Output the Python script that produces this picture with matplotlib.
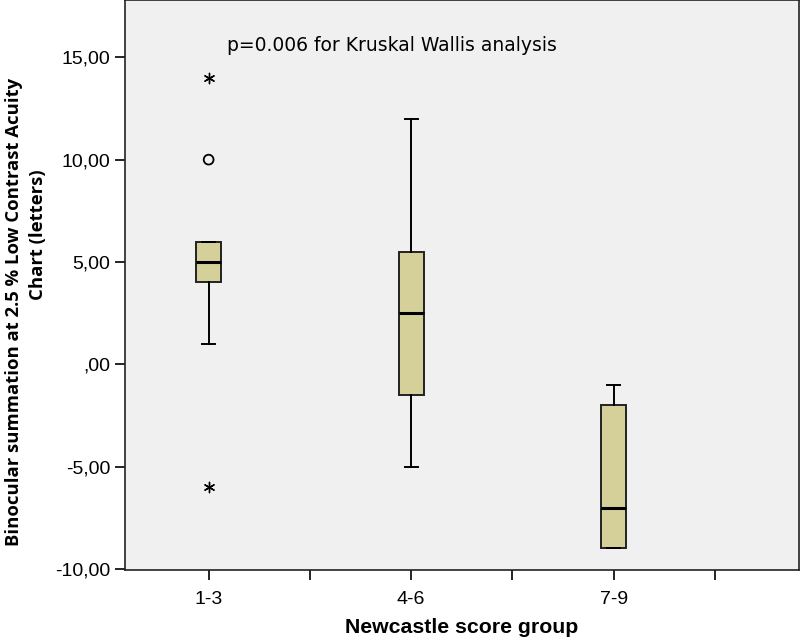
import matplotlib
matplotlib.use("Agg")
import matplotlib.pyplot as plt

groups = ["1-3", "4-6", "7-9"]
medians = [5.0, 2.5, -7.0]
q1 = [4.0, -1.5, -9.0]
q3 = [6.0, 5.5, -2.0]
whis_lo = [1.0, -5.0, -9.0]
whis_hi = [6.0, 12.0, -1.0]

# outliers (circle) and extremes (star) for the first group
outlier_x = [1]
outlier_y = [10.0]
extreme_x = [1, 1]
extreme_y = [14.0, -6.0]

y_ticks = [15, 10, 5, 0, -5, -10]
y_labels = ["15,00", "10,00", "5,00", ",00", "-5,00", "-10,00"]

plt.rcParams["font.family"] = ["Liberation Sans", "DejaVu Sans"]

fig = plt.figure(figsize=(8, 6.38), dpi=100)
ax = fig.add_axes([0.156, 0.1066, 0.843, 0.8934])
ax.set_facecolor("#f0f0f0")

stats = []
for i, g in enumerate(groups):
    stats.append({
        "label": g,
        "med": medians[i],
        "q1": q1[i],
        "q3": q3[i],
        "whislo": whis_lo[i],
        "whishi": whis_hi[i],
        "fliers": [],
    })

positions = [1, 2, 3]
ax.bxp(
    stats,
    positions=positions,
    widths=0.125,
    patch_artist=True,
    showfliers=False,
    boxprops={"facecolor": "#d5d09a", "edgecolor": "#222222", "linewidth": 1.4},
    medianprops={"color": "black", "linewidth": 2.2},
    whiskerprops={"color": "black", "linewidth": 1.4},
    capprops={"color": "black", "linewidth": 1.4},
    capwidths=0.065,
)

ax.scatter(outlier_x, outlier_y, marker="o", s=50, facecolors="none",
           edgecolors="black", linewidths=1.3, zorder=3)
ax.scatter(extreme_x, extreme_y, marker=(6, 2, 0), s=55, color="black",
           linewidths=1.0, zorder=3)

ax.set_xlim(0.586, 3.916)
ax.set_ylim(-10.05, 17.8)

ax.set_xticks([1, 1.5, 2, 2.5, 3, 3.5])
ax.set_xticklabels(["1-3", "", "4-6", "", "7-9", ""])
ax.set_yticks(y_ticks)
ax.set_yticklabels(y_labels)
ax.tick_params(axis="both", direction="out", length=7, width=1.2, labelsize=14, colors="black")
ax.tick_params(axis="x", pad=8)

for side in ["left", "bottom", "top", "right"]:
    ax.spines[side].set_linewidth(1.2)
    ax.spines[side].set_color("#222222")

ax.set_xlabel("Newcastle score group", fontsize=15.3, fontweight="bold")
ax.xaxis.set_label_coords(0.5, -0.085)

fig.text(0.018, 0.511, "Binocular summation at 2.5 % Low Contrast Acuity",
         rotation=90, fontsize=13.3, fontweight="bold", family=["Open Sans", "DejaVu Sans"],
         ha="center", va="center")
fig.text(0.048, 0.632, "Chart (letters)",
         rotation=90, fontsize=13.3, fontweight="bold", family=["Open Sans", "DejaVu Sans"],
         ha="center", va="center")

ax.text(1.09, 15.6, "p=0.006 for Kruskal Wallis analysis", fontsize=13.5,
        family=["DejaVu Sans"], va="center", ha="left")

fig.savefig("out.png", dpi=100)
